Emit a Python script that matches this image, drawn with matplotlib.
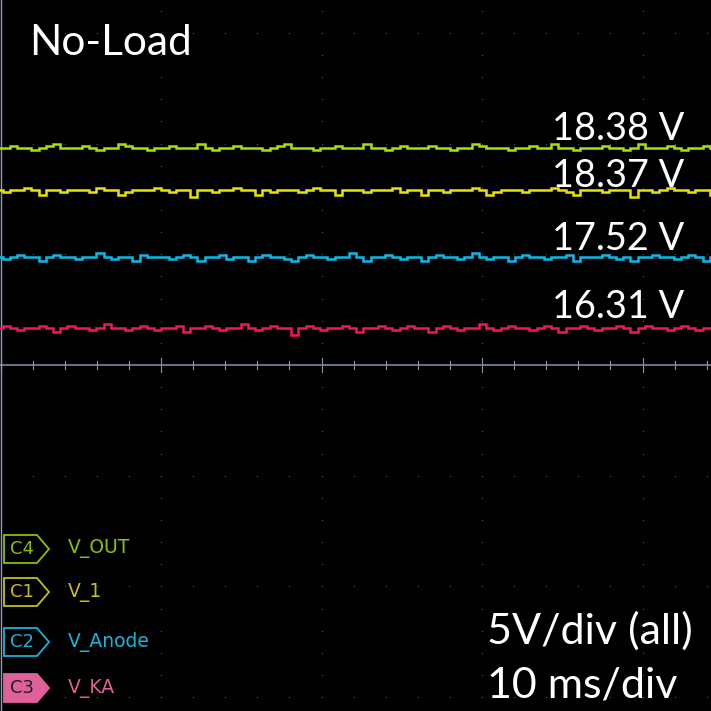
import numpy as np
import matplotlib
matplotlib.use("Agg")
from matplotlib import pyplot as plt
from matplotlib.patches import Polygon

# ---------------- data ----------------
# trace levels on screen (volts, 5 V/div, relative to centre line)
levels = {"C4": 9.8, "C1": 7.9, "C2": 4.88, "C3": 1.67}
lsb = 0.1  # volts per screen step

# small jitter, in steps
green_noise = [0,0,-1,0,0,1,0,-1,-2,0,0,0,-1,0,1,0,0,-2,-1,0,0,1,0,0,-1,0,0,0,-2,0,1,0,0,-1,0,0,0,1,0,-1,
               -2,0,0,0,1,0,0,-1,0,0,0,-2,0,0,1,0,-1,0,0,0,-1,0,0,1,0,0,-2,-1,0,0,0,1,0,0,-1,0,0,-2,0,0,
               1,0,0,0,-1,0,0,1,0,-2,0,0,0,-1,0,1,0,0,-1,0]
yellow_noise = [0,1,0,0,-1,0,2,0,0,1,0,0,0,1,-1,0,0,2,1,0,0,0,-1,0,1,0,0,3,0,0,1,0,0,-1,0,0,2,0,1,0,
                0,0,1,0,-1,0,0,2,0,0,0,1,0,0,0,-1,1,0,0,2,0,0,1,0,0,0,-1,0,2,1,0,0,0,1,0,0,0,-1,0,1,
                2,0,0,0,1,0,0,0,3,0,0,1,0,-1,0,0,1,0,0,2]
cyan_noise = [0,1,0,-1,0,0,2,0,-1,0,0,1,0,0,-2,0,1,0,0,2,-1,0,0,0,1,0,-1,0,2,0,0,-1,1,0,0,2,0,-1,0,0,
              1,2,0,-1,0,0,1,0,0,-2,0,2,0,0,-1,0,1,0,0,2,0,-1,0,0,1,0,-2,0,1,0,0,2,0,-1,0,0,1,0,0,-1,
              2,0,0,0,-1,0,1,0,2,0,0,-1,0,0,1,0,-1,0,2,0]
pink_noise = [0,-1,0,1,0,0,-1,0,2,0,-1,0,0,1,0,-2,0,0,1,0,-1,0,1,0,0,-1,2,0,0,-1,0,1,0,0,-2,0,1,0,-1,0,
              0,3,0,-1,0,1,0,0,-1,0,2,0,0,-1,0,1,0,-1,0,0,2,0,-1,0,1,0,0,-2,0,1,0,-1,0,0,1,0,-1,0,2,0,
              0,-1,0,1,0,0,-1,0,2,0,-1,0,0,1,0,-1,0,1,0,0]

readouts = ["18.38 V", "18.37 V", "17.52 V", "16.31 V"]
channels = ["C4", "C1", "C2", "C3"]
names = ["V_OUT", "V_1", "V_Anode", "V_KA"]
trace_colors = ["#a6e400", "#e8e400", "#10b8e8", "#f41464"]
label_colors = ["#8cc000", "#c8c010", "#18b4dc", "#e0609a"]
noises = [green_noise, yellow_noise, cyan_noise, pink_noise]

volts_per_div = 5.0

# ---------------- figure ----------------
W = 711
fig = plt.figure(figsize=(7.11, 7.11), dpi=100, facecolor="black")
ax = fig.add_axes([0, 0, 1, 1])
ax.set_facecolor("black")

px_x = 160.5   # pixels per horizontal division
px_y = 110.7   # pixels per vertical division
cy = 365       # centre line pixel row
ax.set_xlim(-0.5 / px_x, (W - 0.5) / px_x)
ax.set_ylim(-(W - cy) / px_y, cy / px_y)
ax.axis("off")

def P(x, y):
    # pixel -> axes fraction
    return (x / W, 1 - y / W)

# graticule dots
grid_c = "#505664"
for k in range(0, 5):
    ys = np.arange(-3.2, 3.4, 0.2)
    ax.scatter(np.full(len(ys), k), ys, s=0.8, c=grid_c, lw=0)
for k in range(-3, 4):
    xs = np.arange(0, 4.6, 0.2)
    ax.scatter(xs, np.full(len(xs), k), s=0.8, c=grid_c, lw=0)

# centre line with ticks
ax.axhline(0, color="#8a94a8", lw=1.1)
for xt in np.arange(0, 4.6, 0.2):
    h = 0.06 if abs(xt - round(xt)) < 1e-6 else 0.032
    ax.plot([xt, xt], [-h, h], color="#8a94a8", lw=0.8)
# left frame line
ax.axvline(0.005, color="#8aa0c0", lw=1.0)

# traces
for noise, ch, col in zip(noises, channels, trace_colors):
    n = np.array(noise, dtype=float)
    x = np.linspace(-0.01, (W + 2) / px_x, len(n))
    y = (levels[ch] - n * lsb) / volts_per_div
    ax.plot(x, y, drawstyle="steps-mid", color=col, lw=1.8, solid_joinstyle="miter")

# texts
font = "Lato"
ax.text(*P(29, 55), "No-Load", transform=ax.transAxes, color="white",
        fontsize=30.5, family=font, va="baseline")
for txt, yb in zip(readouts, [140, 187, 250, 318]):
    ax.text(*P(552, yb), txt, transform=ax.transAxes, color="white",
            fontsize=27.3, family=font, va="baseline")
ax.text(*P(487, 644), "5V/div (all)", transform=ax.transAxes, color="white",
        fontsize=31, family=font, va="baseline")
ax.text(*P(487, 698), "10 ms/div", transform=ax.transAxes, color="white",
        fontsize=31, family=font, va="baseline")

# channel badges
for i, (ch, nm, lc) in enumerate(zip(channels, names, label_colors)):
    yc = [549, 592, 642, 688][i]
    pts = [P(4, yc - 14), P(37, yc - 14), P(49, yc), P(37, yc + 14), P(4, yc + 14)]
    filled = ch == "C3"
    poly = Polygon(pts, closed=True, transform=ax.transAxes,
                   facecolor=lc if filled else "black", edgecolor=lc, lw=1.3)
    ax.add_patch(poly)
    ax.text(*P(22, yc), ch, transform=ax.transAxes, color="#202020" if filled else lc,
            fontsize=13, ha="center", va="center", family="DejaVu Sans")
    ax.text(*P(68, yc), nm, transform=ax.transAxes, color=lc,
            fontsize=13.5, ha="left", va="center", family="DejaVu Sans")

fig.savefig("out.png", dpi=100, facecolor="black")
